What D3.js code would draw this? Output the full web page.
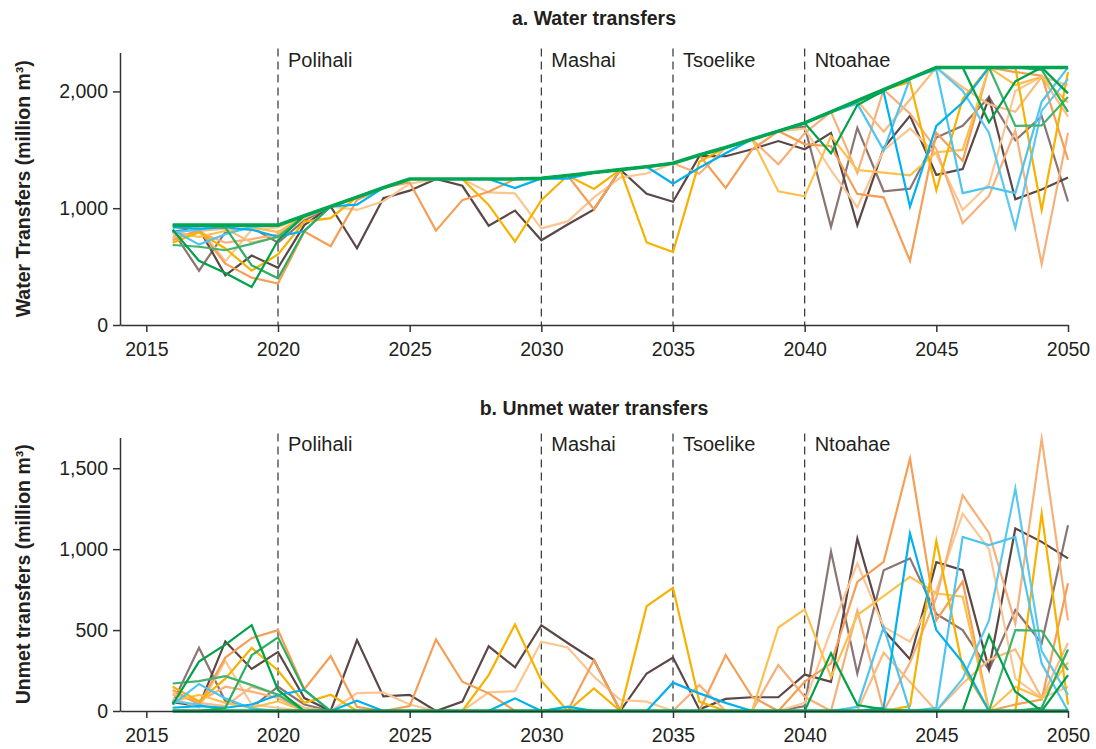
<!DOCTYPE html>
<html><head><meta charset="utf-8">
<script src="https://cdn.jsdelivr.net/npm/d3@7"></script>
<style>
body{margin:0;background:#fff}
svg{display:block}
text{font-family:"Liberation Sans",Arial,Helvetica,sans-serif;fill:#231f20}
</style>
</head><body>
<svg id="chart" width="1096" height="749"></svg>
<script>
// ---------- data ----------
const years = [2016,2017,2018,2019,2020,2021,2022,2023,2024,2025,2026,2027,2028,2029,2030,2031,2032,2033,2034,2035,2036,2037,2038,2039,2040,2041,2042,2043,2044,2045,2046,2047,2048,2049,2050];
const xTicks = [2015,2020,2025,2030,2035,2040,2045,2050];
const yTicksA = [0,1000,2000];
const yTicksB = [0,500,1000,1500];
const projectNames = ["Polihali","Mashai","Tsoelike","Ntoahae"];
const projectYears = [2020,2030,2035,2040];

// full demand (all transfers met)
const transfersFull = [855,855,855,855,855,935,1015,1095,1175,1250,1250,1250,1250,1250,1255,1280,1305,1330,1355,1385,1455,1520,1590,1660,1730,1825,1920,2015,2110,2205,2205,2205,2205,2205,2205];
const unmetFull = [0,0,0,0,0,0,0,0,0,0,0,0,0,0,0,0,0,0,0,0,0,0,0,0,0,0,0,0,0,0,0,0,0,0,0];

const transfersBrownDark = [800,825,425,595,490,855,1015,657,1085,1150,1250,1192,850,980,725,860,990,1330,1123,1055,1445,1445,1505,1575,1505,1645,854,1515,1790,1285,1335,1945,1077,1160,1262];
const unmetBrownDark = [55,30,430,260,365,80,0,438,90,100,0,58,400,270,530,420,315,0,232,330,10,75,85,85,225,180,1066,500,320,920,870,260,1128,1045,943];

const transfersTaupe = [805,465,795,835,705,895,1015,1095,1175,1250,1250,1250,1250,1250,1255,1280,1305,1330,1355,1385,1455,1520,1590,1660,1700,840,1688,1145,1167,1605,1705,1952,1581,1787,1057];
const unmetTaupe = [50,390,60,20,150,40,0,0,0,0,0,0,0,0,0,0,0,0,0,0,0,0,0,0,30,985,232,870,943,600,500,253,624,418,1148];

const transfersOrange = [725,815,525,405,355,800,675,1070,1175,1220,808,1069,1141,1250,1255,1280,990,1330,1355,1385,1455,1174,1502,1660,1549,1531,1122,1093,550,1645,1405,2205,2165,2135,1415];
const unmetOrange = [130,40,330,450,500,135,340,25,0,30,442,181,109,0,0,0,315,0,0,0,0,346,88,0,181,294,798,922,1560,560,800,0,40,70,790];

const transfersPeach = [755,795,705,735,775,935,1015,1095,1175,1250,1250,1250,1250,1250,1255,1280,1305,1330,1355,1385,1295,1520,1590,1376,1642,1825,1300,2015,1810,1505,871,1105,1665,522,1645];
const unmetPeach = [100,60,150,120,80,0,0,0,0,0,0,0,0,0,0,0,0,0,0,0,160,0,0,284,88,0,620,0,300,700,1334,1100,540,1683,560];

const transfersLightPeach = [775,835,545,815,835,935,1015,985,1060,1210,1250,1250,1135,1127,827,887,1093,1262,1297,1385,1455,1520,1590,1660,1680,1325,1008,1495,1682,1460,985,1205,2005,2125,2055];
const unmetLightPeach = [80,20,310,40,20,0,0,110,115,40,0,0,115,123,428,393,212,68,58,0,0,0,0,0,50,500,912,520,428,745,1220,1000,200,80,150];

const transfersApricot = [745,805,825,705,755,915,1015,1095,1175,1250,1250,1250,1250,1250,1255,1280,1305,1330,1355,1385,1455,1520,1590,1660,1730,1825,1920,1655,1930,2205,2035,1890,1825,2125,1785];
const unmetApricot = [110,50,30,150,100,20,0,0,0,0,0,0,0,0,0,0,0,0,0,0,0,0,0,0,0,0,0,360,180,0,170,315,380,80,420];

const transfersGold = [705,795,655,465,605,885,915,1095,1175,1250,1250,1250,1028,715,1068,1280,1165,1330,707,624,1397,1520,1590,1660,1730,1825,1920,2015,2080,1154,1935,2205,2205,985,2165];
const unmetGold = [150,60,200,390,250,50,100,0,0,0,0,0,222,535,187,0,140,0,648,761,58,0,0,0,0,0,0,0,30,1051,270,0,0,1220,40];

const transfersLightGold = [795,755,805,835,795,935,1015,1095,1175,1250,1250,1250,1250,1250,1255,1280,1305,1330,1355,1385,1455,1520,1590,1144,1102,1617,1327,1305,1281,1479,1499,2205,2055,2125,1905];
const unmetLightGold = [60,100,50,20,60,0,0,0,0,0,0,0,0,0,0,0,0,0,0,0,0,0,0,516,628,208,593,710,829,726,706,0,150,80,300];

const transfersSky = [815,688,777,839,855,935,1015,1095,1175,1250,1250,1250,1250,1250,1255,1280,1305,1330,1355,1385,1455,1520,1590,1660,1730,1825,1895,1495,2110,2185,1129,1180,1129,1911,2205];
const unmetSky = [40,167,78,16,0,0,0,0,0,0,0,0,0,0,0,0,0,0,0,0,0,0,0,0,0,0,25,520,0,20,1076,1025,1076,294,0];

const transfersBlue = [835,825,835,815,756,805,1015,1031,1175,1250,1250,1250,1250,1172,1255,1253,1305,1330,1355,1210,1346,1470,1590,1660,1730,1825,1920,1995,1013,1705,1905,2205,2205,2205,2205];
const unmetBlue = [20,30,20,40,99,130,0,64,0,0,0,0,0,78,0,27,0,0,0,175,109,50,0,0,0,0,0,20,1097,500,300,0,0,0,0];

const transfersSky2 = [795,815,855,855,855,935,1015,1095,1175,1250,1250,1250,1250,1250,1255,1280,1305,1330,1355,1385,1455,1520,1590,1660,1730,1825,1920,2015,2110,2205,2005,1645,830,1835,2105];
const unmetSky2 = [60,40,0,0,0,0,0,0,0,0,0,0,0,0,0,0,0,0,0,0,0,0,0,0,0,0,0,0,0,0,200,560,1375,370,100];

const transfersMidGreen = [685,670,640,695,755,935,1015,1095,1175,1250,1250,1250,1250,1250,1255,1280,1305,1330,1355,1385,1455,1520,1590,1660,1730,1825,1920,2015,2110,2205,2205,2205,1705,1709,1952];
const unmetMidGreen = [170,185,215,160,100,0,0,0,0,0,0,0,0,0,0,0,0,0,0,0,0,0,0,0,0,0,0,0,0,0,0,0,500,496,253];

const transfersGreen2 = [855,855,835,510,400,805,1015,1095,1175,1250,1250,1250,1250,1250,1255,1280,1305,1330,1355,1385,1455,1520,1590,1660,1730,1825,1920,2015,2110,2205,2205,2205,2205,2185,1825];
const unmetGreen2 = [0,0,20,345,455,130,0,0,0,0,0,0,0,0,0,0,0,0,0,0,0,0,0,0,0,0,0,0,0,0,0,0,0,20,380];

const transfersDarkGreen = [815,550,445,325,725,935,1015,1095,1175,1250,1250,1250,1250,1250,1255,1280,1305,1330,1355,1385,1455,1520,1590,1660,1730,1469,1883,2005,2110,2205,2205,1736,2086,2205,1983];
const unmetDarkGreen = [40,305,410,530,130,0,0,0,0,0,0,0,0,0,0,0,0,0,0,0,0,0,0,0,0,356,37,10,0,0,0,469,119,0,222];

// ---------- series table (drawing order) ----------
const series = [
  {t: transfersTaupe,      u: unmetTaupe,      c: "#8b7474", w: 2.2},
  {t: transfersBrownDark,  u: unmetBrownDark,  c: "#5c4747", w: 2.2},
  {t: transfersLightPeach, u: unmetLightPeach, c: "#fcc693", w: 2.2},
  {t: transfersPeach,      u: unmetPeach,      c: "#f8b07b", w: 2.2},
  {t: transfersApricot,    u: unmetApricot,    c: "#f9bb7e", w: 2.2},
  {t: transfersOrange,     u: unmetOrange,     c: "#f49f55", w: 2.2},
  {t: transfersLightGold,  u: unmetLightGold,  c: "#fdc04e", w: 2.2},
  {t: transfersGold,       u: unmetGold,       c: "#f7b200", w: 2.2},
  {t: transfersSky2,       u: unmetSky2,       c: "#5cc8f0", w: 2.2},
  {t: transfersSky,        u: unmetSky,        c: "#4fc4ef", w: 2.2},
  {t: transfersBlue,       u: unmetBlue,       c: "#00b1ee", w: 2.2},
  {t: transfersMidGreen,   u: unmetMidGreen,   c: "#3fb46c", w: 2.2},
  {t: transfersGreen2,     u: unmetGreen2,     c: "#2dad60", w: 2.2},
  {t: transfersDarkGreen,  u: unmetDarkGreen,  c: "#00a14b", w: 2.2},
  {t: transfersFull,       u: unmetFull,       c: "#00a651", w: 3.6}
];

// ---------- layout ----------
const svg = d3.select("#chart");
const xLeft = 120, xRight = 1068;
const x = d3.scaleLinear().domain([2014, 2050]).range([xLeft, xRight]);

const panels = [
  {key: "t", top: 52.5, bottom: 325, max: 2333, ticks: yTicksA,
   title: "a. Water transfers", titleY: 25, yTitle: "Water Transfers (million m\u00b3)", labelY: 67},
  {key: "u", top: 437.5, bottom: 711, max: 1690, ticks: yTicksB,
   title: "b. Unmet water transfers", titleY: 415, yTitle: "Unmet transfers (million m\u00b3)", labelY: 451}
];

const fmt = d3.format(",");

panels.forEach(p => {
  const y = d3.scaleLinear().domain([0, p.max]).range([p.bottom, p.top]);
  const g = svg.append("g");

  // title
  g.append("text").attr("x", (xLeft + xRight) / 2).attr("y", p.titleY)
    .attr("text-anchor", "middle").attr("font-size", 19.5).attr("font-weight", "bold")
    .text(p.title);

  // y title
  g.append("text")
    .attr("transform", `translate(30,${(p.top + p.bottom) / 2}) rotate(-90)`)
    .attr("text-anchor", "middle").attr("font-size", 19.5).attr("font-weight", "bold")
    .text(p.yTitle);

  // project dashed lines + labels
  projectYears.forEach((yr, i) => {
    g.append("line").attr("x1", x(yr)).attr("x2", x(yr))
      .attr("y1", p.top - 4).attr("y2", p.bottom)
      .attr("stroke", "#333").attr("stroke-width", 1.2).attr("stroke-dasharray", "8,5");
    g.append("text").attr("x", x(yr) + 10).attr("y", p.labelY)
      .attr("font-size", 20).text(projectNames[i]);
  });

  // lines
  const line = d3.line().x((d, i) => x(years[i])).y(d => y(d));
  series.forEach(s => {
    g.append("path").datum(s[p.key])
      .attr("d", line).attr("fill", "none")
      .attr("stroke", s.c).attr("stroke-width", s.w)
      .attr("stroke-linejoin", "miter").attr("stroke-miterlimit", 10);
  });

  // axes
  const xAxis = d3.axisBottom(x).tickValues(xTicks).tickFormat(d3.format("d"))
    .tickSize(7).tickSizeOuter(0).tickPadding(10);
  const gx = g.append("g").attr("transform", `translate(0,${p.bottom})`).call(xAxis);
  const yAxis = d3.axisLeft(y).tickValues(p.ticks).tickFormat(fmt)
    .tickSize(7).tickSizeOuter(0).tickPadding(5);
  const gy = g.append("g").attr("transform", `translate(${xLeft},0)`).call(yAxis);
  [gx, gy].forEach(a => {
    a.select(".domain").attr("stroke", "#333").attr("stroke-width", 1.5);
    a.selectAll(".tick line").attr("stroke", "#333").attr("stroke-width", 1.5);
    a.selectAll(".tick text").attr("font-size", 19.5).attr("fill", "#231f20")
      .attr("font-family", "'Liberation Sans',Arial,sans-serif");
  });
});
</script>
</body></html>
